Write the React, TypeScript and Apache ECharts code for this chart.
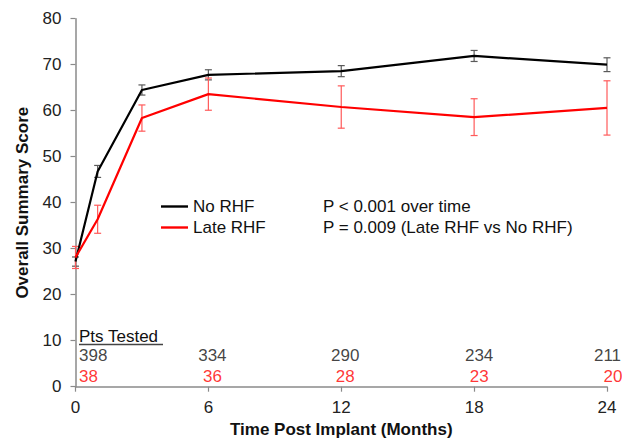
import React, { useEffect, useRef } from "react";
import * as echarts from "echarts";

// ---- data ----
const months = [0, 1, 3, 6, 12, 18, 24];
const noRhf = [27.2, 46.8, 64.5, 67.8, 68.6, 71.9, 70.0];
const noRhfErr = [1.0, 1.3, 1.1, 1.1, 1.2, 1.2, 1.5];
const lateRhf = [28.1, 36.4, 58.4, 63.6, 60.8, 58.6, 60.6];
const lateRhfErr = [2.4, 3.05, 2.85, 3.5, 4.6, 4.0, 5.9];

const ptsMonths = [0, 6, 12, 18, 24];
const ptsNoRhf = [398, 334, 290, 234, 211];
const ptsLate = [38, 36, 28, 23, 20];

const xTicks = [0, 6, 12, 18, 24];

// ---- layout constants ----
const FONT = "'Liberation Sans', Arial, Helvetica, sans-serif";
const ROW_NO = 6.8; // y position (axis units) of the "No RHF" count row
const ROW_LATE = 2.3; // y position of the "Late RHF" count row
const noShift = [3.5, 4, 4, 5, 0.5];
const lateShift = [3.5, 4, 4, 5, 6];

function errorSeries(name: string, vals: number[], errs: number[], color: string) {
  return {
    type: "custom",
    name: name + " err",
    clip: false,
    z: 3,
    data: months.map((m, i) => [m, vals[i] - errs[i], vals[i] + errs[i]]),
    encode: { x: 0, y: [1, 2] },
    renderItem: (params: any, api: any) => {
      const x = api.value(0);
      const lo = api.coord([x, api.value(1)]);
      const hi = api.coord([x, api.value(2)]);
      const w = 3.5;
      const style = { stroke: color, lineWidth: 1.2 };
      return {
        type: "group",
        children: [
          { type: "line", shape: { x1: lo[0], y1: lo[1], x2: hi[0], y2: hi[1] }, style },
          { type: "line", shape: { x1: lo[0] - w, y1: lo[1], x2: lo[0] + w, y2: lo[1] }, style },
          { type: "line", shape: { x1: hi[0] - w, y1: hi[1], x2: hi[0] + w, y2: hi[1] }, style },
        ],
      };
    },
  };
}

function countSeries(name: string, counts: number[], row: number, shifts: number[], color: string) {
  return {
    type: "scatter",
    name,
    symbolSize: 0,
    silent: true,
    clip: false,
    z: 5,
    data: ptsMonths.map((m, i) => ({
      value: [m, row, counts[i]],
      label: {
        align: i === 0 ? "left" : "center",
        offset: [shifts[i], 0],
      },
    })),
    label: {
      show: true,
      position: "inside",
      formatter: (p: any) => String(p.value[2]),
      color,
      fontSize: 17,
      fontFamily: FONT,
    },
  };
}

export default function App() {
  const ref = useRef<HTMLDivElement>(null);

  useEffect(() => {
    if (!ref.current) return;
    const chart = echarts.init(ref.current, undefined, { renderer: "svg" });
    const axisColor = "#8a8a8a";
    chart.setOption({
      animation: false,
      backgroundColor: "#ffffff",
      grid: {
        left: 75.5,
        right: 22,
        top: 18.7,
        bottom: 53.3,
        containLabel: false,
        outerBoundsMode: "none",
      },
      xAxis: {
        type: "value",
        min: 0,
        max: 24,
        interval: 6,
        name: "Time Post Implant (Months)",
        nameLocation: "middle",
        nameGap: 27,
        nameTextStyle: { fontSize: 17, fontWeight: "bold", color: "#111", fontFamily: FONT },
        axisLine: { show: true, lineStyle: { color: axisColor, width: 1.5 } },
        axisTick: { show: true, length: 5, lineStyle: { color: axisColor, width: 1.2 } },
        axisLabel: {
          fontSize: 17,
          color: "#222",
          fontFamily: FONT,
          margin: 12,
          formatter: (v: number) => (xTicks.includes(v) ? String(v) : ""),
        },
        splitLine: { show: false },
      },
      yAxis: {
        type: "value",
        min: 0,
        max: 80,
        interval: 10,
        name: "Overall Summary Score",
        nameLocation: "middle",
        nameGap: 45,
        nameTextStyle: { fontSize: 17, fontWeight: "bold", color: "#111", fontFamily: FONT },
        axisLine: { show: true, lineStyle: { color: axisColor, width: 1.5 } },
        axisTick: { show: true, length: 5, lineStyle: { color: axisColor, width: 1.2 } },
        axisLabel: { fontSize: 17, color: "#222", fontFamily: FONT, margin: 14 },
        splitLine: { show: false },
      },
      legend: {
        data: [
          { name: "No RHF", icon: "rect" },
          { name: "Late RHF", icon: "rect" },
        ],
        orient: "vertical",
        left: 161,
        top: 198,
        padding: 0,
        itemWidth: 27,
        itemHeight: 2.4,
        itemGap: 4,
        textStyle: { fontSize: 17, color: "#111", fontFamily: FONT },
      },
      graphic: [
        {
          type: "text",
          left: 323,
          top: 198,
          style: { text: "P < 0.001 over time", fontSize: 17, fill: "#111", fontFamily: FONT },
        },
        {
          type: "text",
          left: 323,
          top: 219,
          style: { text: "P = 0.009 (Late RHF vs No RHF)", fontSize: 17, fill: "#111", fontFamily: FONT },
        },
        {
          type: "text",
          left: 79,
          top: 328,
          style: { text: "Pts Tested", fontSize: 17, fill: "#111", fontFamily: FONT },
        },
        {
          type: "line",
          shape: { x1: 79, y1: 344.5, x2: 163, y2: 344.5 },
          style: { stroke: "#444", lineWidth: 1.6 },
        },
      ],
      series: [
        errorSeries("No RHF", noRhf, noRhfErr, "#5a5a5a"),
        errorSeries("Late RHF", lateRhf, lateRhfErr, "#ff5a5a"),
        {
          type: "line",
          name: "No RHF",
          symbol: "none",
          z: 4,
          data: months.map((m, i) => [m, noRhf[i]]),
          lineStyle: { color: "#000000", width: 2.2 },
          itemStyle: { color: "#000000" },
        },
        {
          type: "line",
          name: "Late RHF",
          symbol: "none",
          z: 4,
          data: months.map((m, i) => [m, lateRhf[i]]),
          lineStyle: { color: "#ff0000", width: 2.2 },
          itemStyle: { color: "#ff0000" },
        },
        countSeries("No RHF pts", ptsNoRhf, ROW_NO, noShift, "#111111"),
        countSeries("Late RHF pts", ptsLate, ROW_LATE, lateShift, "#ff0000"),
      ],
    });
    return () => chart.dispose();
  }, []);

  return (
    <div
      ref={ref}
      style={{ position: "absolute", left: 0, top: 0, width: 629, height: 440 }}
    />
  );
}
